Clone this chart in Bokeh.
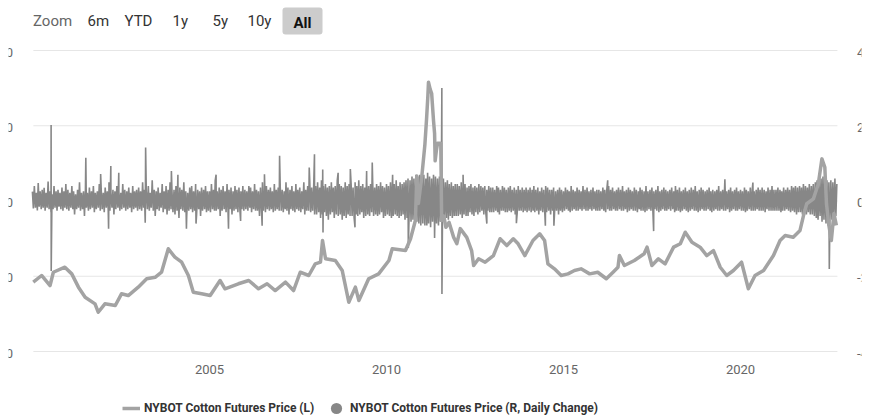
import pandas as pd
from bokeh.plotting import figure
from bokeh.models import Range1d, Label, Legend, LegendItem, ColumnDataSource
from bokeh.embed import file_html
from bokeh.resources import INLINE

# ---------------- data ----------------
price_dates = [
    "2000-01-10", "2000-04-05", "2000-07-01", "2000-08-04", "2000-12-01", "2001-02-10", "2001-04-20",
    "2001-06-28", "2001-10-08", "2001-11-10", "2002-01-18", "2002-05-05", "2002-07-08", "2002-09-16",
    "2002-12-28", "2003-03-25", "2003-06-20", "2003-08-25", "2003-11-03", "2004-01-10", "2004-03-20",
    "2004-05-28", "2004-07-18", "2004-10-12", "2005-01-08", "2005-04-20", "2005-06-10", "2005-10-26",
    "2006-02-10", "2006-05-22", "2006-08-18", "2006-11-10", "2007-02-24", "2007-05-18", "2007-07-26",
    "2007-10-22", "2007-12-28", "2008-02-20", "2008-03-12", "2008-04-12", "2008-07-22", "2008-10-01",
    "2008-12-08", "2009-02-14", "2009-03-22", "2009-07-01", "2009-10-12", "2010-01-26", "2010-03-01",
    "2010-07-16", "2010-09-06", "2010-10-26", "2010-11-10", "2010-11-26", "2011-01-01", "2011-02-01",
    "2011-02-18", "2011-03-04", "2011-03-10", "2011-03-28", "2011-04-12", "2011-05-01", "2011-05-12",
    "2011-05-18", "2011-05-30", "2011-06-12", "2011-07-15", "2011-07-24", "2011-08-15", "2011-09-06",
    "2011-10-08", "2011-11-25", "2011-12-28", "2012-02-01", "2012-04-08", "2012-05-28", "2012-06-18",
    "2012-08-08", "2012-10-15", "2013-01-08", "2013-03-18", "2013-05-26", "2013-08-01", "2013-09-20",
    "2013-11-28", "2014-02-20", "2014-05-01", "2014-06-20", "2014-07-24", "2014-09-30", "2014-12-08",
    "2015-02-16", "2015-04-24", "2015-07-01", "2015-09-28", "2015-12-20", "2016-03-18", "2016-05-26",
    "2016-07-16", "2016-07-31", "2016-09-20", "2017-01-01", "2017-04-12", "2017-05-12", "2017-07-01",
    "2017-09-06", "2017-11-14", "2018-02-10", "2018-04-20", "2018-06-10", "2018-08-18", "2018-11-10",
    "2019-01-18", "2019-03-28", "2019-06-06", "2019-08-12", "2019-10-20", "2020-01-12", "2020-03-22",
    "2020-05-30", "2020-08-26", "2020-12-06", "2021-02-12", "2021-04-06", "2021-06-28", "2021-09-06",
    "2021-10-12", "2021-11-14", "2022-01-22", "2022-03-14", "2022-04-20", "2022-05-20", "2022-06-06",
    "2022-07-01", "2022-07-26", "2022-08-22", "2022-09-16",
]
price_values = [
    55.3, 60.6, 52.6, 63.2, 67.2, 61.9, 51.3,
    43.3, 38.0, 31.3, 38.0, 36.7, 46.0, 44.6,
    51.3, 58.0, 59.2, 63.2, 81.9, 75.2, 71.2,
    60.6, 47.3, 46.0, 44.6, 56.6, 50.0, 54.0,
    56.6, 50.0, 54.0, 48.6, 55.3, 48.6, 63.2,
    60.6, 69.9, 71.2, 88.5, 73.9, 72.6, 64.6,
    39.3, 51.3, 40.7, 58.0, 61.9, 72.6, 81.9,
    80.5, 89.9, 104.4, 140.0, 118.0, 140.0, 165.0,
    185.0, 204.0, 214.7, 209.0, 205.7, 184.0, 174.0,
    152.0, 160.0, 166.0, 166.0, 104.4, 108.0, 99.0,
    103.0, 91.0, 86.0, 98.0, 91.0, 80.5, 68.6,
    74.0, 71.2, 76.5, 89.9, 84.5, 89.9, 85.9,
    76.5, 88.5, 93.8, 88.5, 69.9, 65.9, 60.6,
    61.9, 64.6, 65.9, 61.9, 63.2, 58.0, 63.2,
    67.2, 76.5, 68.6, 72.6, 77.9, 83.2, 68.6,
    73.9, 69.9, 83.2, 85.9, 95.1, 87.1, 83.2,
    76.5, 80.5, 67.2, 60.6, 64.6, 71.2, 50.0,
    60.6, 64.6, 76.5, 88.5, 92.5, 91.1, 96.5,
    108.4, 117.8, 121.7, 133.7, 153.6, 146.9, 117.8,
    100.5, 88.5, 110.0, 100.5,
]

# daily change, in hundredths, read three times per month (1st, 11th, 21st), one list per year
chg_2000 = [25, -20, 40, -18, 22, -25, 48, -15, 26, -22, 30, -18, 35, -26, 22, -18, 52, -22, 26, -30, 18, -22, 40, -18, 26, -26, 30, -15, 22, -22, 36, -26, 26, -18, 45, -22]
chg_2001 = [30, -26, 22, -18, 40, -22, 26, -36, 18, -22, 30, -18, 50, -26, 22, -22, 26, -40, 30, -18, 22, -26, 36, -22, 26, -18, 40, -30, 22, -22, 26, -18, 45, -26, 30, -22]
chg_2002 = [22, -30, 36, -18, 26, -22, 50, -26, 22, -18, 30, -36, 26, -22, 40, -18, 26, -26, 22, -22, 45, -18, 30, -26, 26, -22, 36, -18, 22, -30, 40, -22, 26, -18, 30, -26]
chg_2003 = [36, -22, 26, -26, 50, -18, 30, -30, 26, -22, 40, -26, 22, -18, 55, -26, 30, -40, 26, -22, 36, -26, 22, -18, 45, -30, 26, -22, 40, -36, 30, -26, 50, -22, 26, -30]
chg_2004 = [30, -36, 40, -26, 26, -45, 36, -22, 30, -26, 50, -30, 26, -40, 22, -26, 36, -22, 40, -30, 26, -26, 45, -36, 30, -22, 26, -40, 36, -26, 30, -22, 40, -30, 26, -26]
chg_2005 = [26, -30, 45, -22, 30, -26, 55, -26, 26, -22, 36, -40, 30, -26, 40, -22, 26, -30, 45, -26, 30, -22, 36, -36, 26, -26, 40, -22, 30, -30, 36, -26, 26, -22, 40, -26]
chg_2006 = [30, -22, 26, -26, 40, -18, 36, -30, 26, -22, 45, -26, 30, -26, 26, -40, 36, -22, 50, -26, 26, -30, 40, -22, 30, -26, 36, -22, 26, -30, 45, -26, 30, -22, 36, -26]
chg_2007 = [36, -26, 30, -30, 26, -22, 50, -26, 36, -36, 30, -22, 40, -26, 26, -30, 45, -22, 30, -26, 36, -30, 26, -22, 50, -36, 30, -26, 40, -26, 55, -30, 36, -26, 30, -36]
chg_2008 = [40, -36, 50, -30, 36, -45, 55, -36, 40, -30, 45, -40, 36, -50, 40, -36, 50, -30, 36, -45, 40, -36, 55, -40, 45, -36, 40, -50, 36, -40, 50, -45, 40, -36, 45, -40]
chg_2009 = [45, -40, 36, -45, 50, -36, 40, -40, 55, -36, 40, -30, 45, -45, 36, -40, 50, -36, 40, -40, 45, -30, 55, -40, 36, -36, 45, -40, 40, -36, 50, -30, 40, -45, 36, -40]
chg_2010 = [45, -36, 40, -40, 50, -45, 36, -40, 45, -36, 55, -40, 40, -45, 50, -40, 45, -36, 50, -50, 55, -45, 60, -50, 55, -55, 65, -50, 60, -60, 70, -55, 65, -60, 70, -65]
chg_2011 = [65, -60, 70, -65, 60, -65, 75, -60, 65, -70, 60, -55, 70, -65, 65, -60, 60, -65, 65, -55, 55, -60, 60, -50, 50, -45, 55, -50, 45, -40, 50, -45, 40, -40, 45, -40]
chg_2012 = [45, -40, 40, -36, 50, -45, 40, -36, 45, -40, 36, -40, 40, -30, 45, -36, 36, -40, 40, -30, 36, -36, 45, -30, 40, -26, 36, -36, 40, -30, 30, -26, 40, -30, 36, -30]
chg_2013 = [36, -30, 30, -26, 40, -30, 36, -36, 30, -26, 40, -26, 36, -30, 30, -30, 36, -26, 40, -30, 30, -26, 36, -36, 30, -30, 40, -26, 30, -26, 36, -30, 30, -26, 36, -30]
chg_2014 = [30, -26, 36, -30, 30, -26, 40, -30, 30, -26, 36, -36, 26, -26, 36, -30, 30, -26, 40, -30, 36, -26, 30, -36, 30, -26, 36, -30, 26, -26, 30, -36, 36, -26, 30, -30]
chg_2015 = [26, -26, 36, -22, 30, -26, 26, -30, 40, -26, 30, -22, 26, -26, 36, -26, 30, -22, 26, -26, 40, -22, 30, -26, 36, -26, 26, -22, 30, -26, 36, -22, 26, -26, 30, -26]
chg_2016 = [30, -26, 26, -22, 36, -26, 30, -30, 26, -22, 40, -26, 30, -26, 36, -22, 26, -26, 30, -26, 36, -22, 30, -26, 40, -26, 26, -22, 30, -30, 36, -26, 30, -22, 26, -26]
chg_2017 = [36, -26, 30, -30, 26, -22, 36, -26, 30, -26, 26, -30, 40, -26, 26, -22, 30, -26, 36, -26, 26, -22, 30, -26, 40, -30, 26, -26, 30, -22, 36, -26, 30, -26, 26, -22]
chg_2018 = [30, -26, 36, -22, 26, -30, 40, -26, 30, -26, 36, -30, 26, -26, 30, -22, 36, -26, 26, -30, 30, -26, 36, -22, 30, -26, 40, -26, 26, -30, 30, -26, 36, -22, 30, -26]
chg_2019 = [26, -26, 30, -22, 36, -26, 26, -30, 30, -26, 26, -22, 30, -26, 40, -26, 26, -22, 30, -26, 36, -26, 26, -22, 30, -30, 36, -26, 26, -22, 30, -26, 36, -26, 26, -22]
chg_2020 = [30, -26, 26, -26, 36, -30, 30, -26, 26, -22, 36, -26, 30, -26, 26, -26, 30, -22, 36, -26, 30, -26, 36, -26, 30, -30, 26, -22, 36, -26, 30, -26, 40, -26, 30, -26]
chg_2021 = [30, -26, 36, -26, 30, -30, 26, -26, 36, -26, 30, -22, 36, -26, 30, -30, 40, -26, 36, -30, 40, -36, 36, -30, 40, -30, 36, -36, 45, -30, 40, -36, 36, -30, 45, -36]
chg_2022 = [40, -36, 45, -40, 50, -45, 55, -50, 45, -40, 60, -55, 65, -50, 60, -60, 55, -65, 50, -55, 55, -50, 50, -45, 60, -40, 45]

# isolated large daily moves (spikes), in hundredths
spike_dates = [
    "2000-07-12", "2000-07-13", "2001-07-05", "2001-12-05", "2002-02-25", "2002-03-20", "2002-06-10",
    "2003-03-10", "2003-03-14", "2003-12-05", "2004-02-10", "2004-05-08", "2004-08-15", "2005-03-10",
    "2005-07-16", "2005-11-18", "2006-06-28", "2006-07-22", "2006-12-25", "2007-10-27", "2007-12-20",
    "2008-03-14", "2008-03-17", "2008-08-20", "2008-12-24", "2009-02-10", "2009-06-10", "2009-08-07",
    "2010-03-05", "2010-08-14", "2011-05-12", "2011-07-26", "2011-07-27", "2012-03-01", "2012-11-01",
    "2013-09-02", "2014-06-28", "2014-09-24", "2016-04-01", "2017-07-19", "2019-07-24", "2020-05-08",
    "2022-07-05",
]
spike_values = [
    202, -186, 115, 72, -74, 93, 75,
    -58, 142, 80, 70, -74, -60, 70,
    -74, -53, -66, 71, 120, 89, 124,
    84, -84, 75, 85, -70, 80, 102,
    70, -125, -98, 300, -247, 70, -60,
    -59, -66, -66, 55, -80, 58, 49,
    -181,
]

left_ticks = [0, 60, 120, 180, 240]
right_ticks = [-4, -2, 0, 2, 4]
year_ticks = ["2005-01-01", "2010-01-01", "2015-01-01", "2020-01-01"]
axis_start, axis_end = "2000-01-11", "2022-09-27"   # extent of the plotting area
zoom_buttons = ["6m", "YTD", "1y", "5y", "10y"]

# ---------------- build sources ----------------
chg_years = [chg_2000, chg_2001, chg_2002, chg_2003, chg_2004, chg_2005, chg_2006, chg_2007,
             chg_2008, chg_2009, chg_2010, chg_2011, chg_2012, chg_2013, chg_2014, chg_2015,
             chg_2016, chg_2017, chg_2018, chg_2019, chg_2020, chg_2021, chg_2022]
c_dates, c_vals = [], []
for yr, arr in zip(range(2000, 2023), chg_years):
    for i, v in enumerate(arr):
        c_dates.append(pd.Timestamp(yr, i // 3 + 1, [1, 11, 21][i % 3]))
        c_vals.append(v / 100)
c_dates += [pd.Timestamp(d) for d in spike_dates]
c_vals += [v / 100 for v in spike_values]
chg_df = pd.DataFrame({"date": c_dates, "chg": c_vals}).sort_values("date")
chg_src = ColumnDataSource(chg_df)
price_src = ColumnDataSource(dict(date=pd.to_datetime(price_dates), price=price_values))

# ---------------- layout geometry (pixels) ----------------
W, H = 869, 419
FR_L, FR_R = 8, 861            # drawable area, texts are clipped at these edges
PX_2005, PX_PER_5Y = 209, 177  # horizontal scale
Y_TOP_GRID, Y_BOT_GRID = 50, 351

t05 = pd.Timestamp("2005-01-01").value / 1e6
mpp = (pd.Timestamp("2010-01-01").value / 1e6 - t05) / PX_PER_5Y
x_start = t05 - (PX_2005 - FR_L) * mpp
x_end = t05 + (FR_R - PX_2005) * mpp
upp_l = 240 / (Y_BOT_GRID - Y_TOP_GRID)
upp_r = 8 / (Y_BOT_GRID - Y_TOP_GRID)

p = figure(width=W, height=H, x_axis_type="datetime", x_axis_location=None, y_axis_location=None,
           x_range=Range1d(x_start, x_end),
           y_range=Range1d(-(H - Y_BOT_GRID) * upp_l, 240 + Y_TOP_GRID * upp_l),
           output_backend="svg", toolbar_location=None,
           min_border_left=FR_L, min_border_right=W - FR_R, min_border_top=0, min_border_bottom=0)
p.extra_y_ranges = {"right": Range1d(-4 - (H - Y_BOT_GRID) * upp_r, 4 + Y_TOP_GRID * upp_r)}
p.outline_line_color = None
p.background_fill_color = "white"
p.border_fill_color = "white"
for g in p.grid:
    g.visible = False

# horizontal grid lines across the plotting area
p.segment(x0=[pd.Timestamp(axis_start)] * len(left_ticks), x1=[pd.Timestamp(axis_end)] * len(left_ticks),
          y0=left_ticks, y1=left_ticks, line_color="#e6e6e6", line_width=1)

r_chg = p.line(x="date", y="chg", source=chg_src, y_range_name="right",
               line_color="#878787", line_width=1.6)
r_price = p.line(x="date", y="price", source=price_src, line_color="#a3a3a3",
                 line_width=3.5, line_join="round")
# legend marker for the daily-change series (points themselves are not drawn: size 0)
r_dot = p.scatter(x="date", y="chg", source=chg_src, y_range_name="right",
                  marker="circle", size=0, line_width=0, fill_color="#878787", line_color="#878787")

common = dict(orientation="horizontal", padding=0, margin=0, border_line_color=None,
              background_fill_alpha=0, label_text_font="Roboto", label_text_font_style="bold",
              label_text_font_size="12px", label_text_color="#333333", label_height=14)
leg1 = Legend(items=[LegendItem(label="NYBOT Cotton Futures Price (L)", renderers=[r_price])],
              location=(114, 4), glyph_width=18, glyph_height=14, label_standoff=4, **common)
leg2 = Legend(items=[LegendItem(label="NYBOT Cotton Futures Price (R, Daily Change)", renderers=[r_dot])],
              location=(314, -3), glyph_width=28, glyph_height=28, label_standoff=0, **common)
p.add_layout(leg1)
p.add_layout(leg2)

# y-axis labels (cut at the edges of the drawing area, as in the original)
for t in left_ticks:
    p.add_layout(Label(x=4.5, y=t, x_units="screen", y_units="data", text=str(t),
                       text_align="right", text_baseline="middle", y_offset=-1.5,
                       text_font="Roboto", text_font_size="13px", text_color="#666666"))
for t in right_ticks:
    p.add_layout(Label(x=848.5, y=t, x_units="screen", y_units="data", y_range_name="right",
                       text=str(t), text_align="left", text_baseline="middle", y_offset=-1.5,
                       text_font="Roboto", text_font_size="13px", text_color="#666666"))
# x-axis labels
for t in year_ticks:
    p.add_layout(Label(x=pd.Timestamp(t).value / 1e6, y=H - 369, x_units="data", y_units="screen",
                       text=t[:4], text_align="center", text_baseline="middle",
                       text_font="Roboto", text_font_size="13px", text_color="#666666"))

# range selector row
BTN_Y = H - 20.5
p.add_layout(Label(x=24.5, y=BTN_Y, x_units="screen", y_units="screen", text="Zoom",
                   text_align="left", text_baseline="middle", text_font="Roboto",
                   text_font_size="15px", text_color="#666666"))
for txt, px in zip(zoom_buttons, [79, 116, 164, 204, 239]):
    p.add_layout(Label(x=px, y=BTN_Y, x_units="screen", y_units="screen", text=txt,
                       text_align="left", text_baseline="middle", text_font="Roboto",
                       text_font_size="15px", text_color="#333333"))
p.add_layout(Label(x=294, y=BTN_Y, x_units="screen", y_units="screen", text="All",
                   text_align="center", text_baseline="middle", text_font="Roboto",
                   text_font_size="15px", text_font_style="bold", text_color="#111111",
                   background_fill_color="#cccccc",
                   padding=dict(left=11, right=11, top=6, bottom=3), border_radius=3))

open("out.html", "w").write(file_html(p, INLINE))
